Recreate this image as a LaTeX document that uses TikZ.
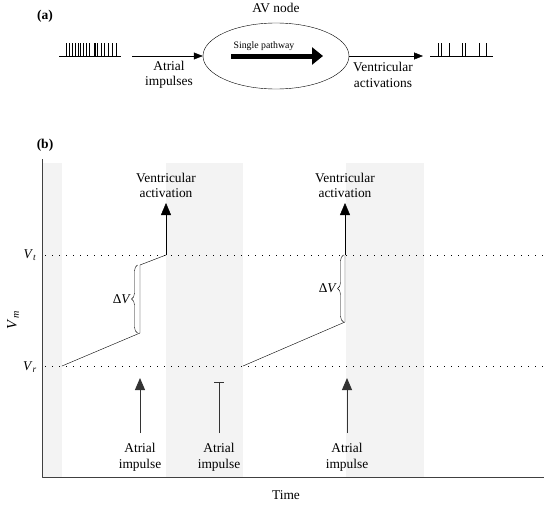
\documentclass[tikz,border=0pt]{standalone}
\usepackage{fontspec}
\setmainfont{Liberation Serif}
\usetikzlibrary{arrows.meta,positioning,shapes.geometric,decorations.pathreplacing}
\definecolor{band}{HTML}{F3F3F3}
\begin{document}
\begin{tikzpicture}[x=1pt, y=-1pt, line join=round, font=\fontsize{13.4}{15.5}\selectfont,
>={Triangle[length=12pt,width=10pt]},
lbl/.style={align=center, inner sep=0pt},
thr/.style={dash pattern=on 1.2pt off 5.8pt, line width=0.9pt},
imp/.style={black!80, line width=0.9pt},
dv/.style={decorate, decoration={brace, amplitude=6pt}}]
\def\vt{255} \def\vr{366} \def\tax{477}
\useasboundingbox (0,0) rectangle (544,506);
% (a) the AV node
\node[lbl, font=\bfseries\fontsize{13.5}{14}\selectfont] (pa) at (45,16) {(a)};
\node[draw, ellipse, minimum width=146pt, minimum height=66pt, inner sep=0pt] (av) at (276,56) {};
\node[lbl] (avn) at (276,8) {AV node};
\coordinate (ain) at (132,56);
\coordinate (vout) at (423,56);
\draw[->, >={Triangle[length=9pt,width=7pt]}] (ain) -- (av.west);
\draw[->, >={Triangle[length=9pt,width=7pt]}] (av.east) -- (vout);
\node[lbl] (ai) at (169,75) {Atrial\\impulses};
\node[lbl] (vo) at (383,75) {Ventricular\\activations};
\coordinate (sp1) at (231,56);
\coordinate (sp2) at (323,56);
\draw[line width=5pt, -{Triangle[length=11pt,width=17pt]}] (sp1) -- (sp2);
\node[lbl, font=\fontsize{9.8}{11}\selectfont] (spw) at (264,46) {Single pathway};
\draw (59,56) -- (121,56);
\foreach \s in {66,69,72.5,75,78,80.5,83,86,89,94,95.5,97,101.5,104.5,108,112,116.5}
  \draw (\s,56) -- (\s,43);
\draw (430,56) -- (493,56);
\foreach \s in {438.3,441,449,461.7,465,479.3,485.7}
  \draw (\s,56) -- (\s,43);
% (b) membrane potential
\node[lbl, font=\bfseries\fontsize{13.5}{14}\selectfont] (pb) at (45,145) {(b)};
\fill[band] (42,163) rectangle (62,\tax);
\fill[band] (166,163) rectangle (243,\tax);
\fill[band] (346,163) rectangle (424,\tax);
\draw[thr] (45,\vt) -- (544,\vt);
\draw[thr] (45,\vr) -- (544,\vr);
\draw[black!75, line width=1pt] (42,159) -- (42,\tax) -- (544,\tax);
\node[lbl] (lvt) at (30,\vt) {\textit{V}\textsubscript{\textit{t}}};
\node[lbl] (lvr) at (30,\vr+1) {\textit{V}\textsubscript{\textit{r}}};
\node[lbl, rotate=90, font=\fontsize{14.5}{16}\selectfont] (lvm) at (13,320) {\textit{V}\textsubscript{\textit{m}}};
\node[lbl] (tm) at (286,495) {Time};
% first beat
\coordinate (r1) at (62,\vr);
\coordinate (k1) at (140,333);
\coordinate (j1) at (140,265);
\coordinate (t1) at (166,\vt);
\coordinate (v1) at (166,203);
\draw (r1) -- (k1) -- (j1) -- (t1);
\draw[->] (t1) -- (v1);
\node[lbl, above=5pt of v1] (va1) {Ventricular\\activation};
\draw[dv] (137.5,333) -- (137.5,265) node[midway, left=3pt] (d1) {Δ\textit{V}};
% second beat
\coordinate (r2) at (243,\vr);
\coordinate (k2) at (345,322);
\coordinate (t2) at (345,\vt);
\coordinate (v2) at (345,203);
\draw (r2) -- (k2) -- (t2);
\draw[->] (t2) -- (v2);
\node[lbl, above=5pt of v2] (va2) {Ventricular\\activation};
\draw[dv] (343.5,322) -- (343.5,\vt) node[midway, left=3pt] (d2) {Δ\textit{V}};
% atrial impulses
\coordinate (b1) at (140,433); \coordinate (h1) at (140,378);
\coordinate (b2) at (219,433); \coordinate (h2) at (219,382);
\coordinate (b3) at (347,433); \coordinate (h3) at (347,378);
\draw[imp, ->] (b1) -- (h1);
\draw[imp, -{Bar[width=10pt]}] (b2) -- (h2);
\draw[imp, ->] (b3) -- (h3);
\node[lbl, below=10pt of b1] (ai1) {Atrial\\impulse};
\node[lbl, below=10pt of b2] (ai2) {Atrial\\impulse};
\node[lbl, below=10pt of b3] (ai3) {Atrial\\impulse};
\end{tikzpicture}
\end{document}
